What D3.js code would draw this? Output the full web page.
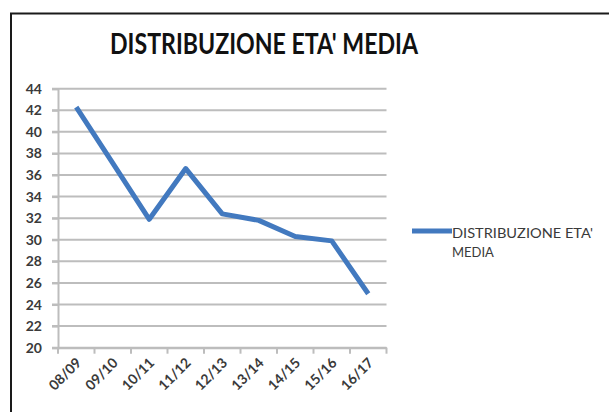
<!DOCTYPE html>
<html>
<head>
<meta charset="utf-8">
<script src="https://cdn.jsdelivr.net/npm/d3@7/dist/d3.min.js"></script>
<style>
  html, body { margin: 0; padding: 0; background: #fff; }
  svg { display: block; }
</style>
</head>
<body>
<svg id="chart" width="609" height="412"></svg>
<script>
// Average age per school year
const categories = ["08/09", "09/10", "10/11", "11/12", "12/13", "13/14", "14/15", "15/16", "16/17"];
const values = [42.3, 37.1, 31.9, 36.6, 32.4, 31.8, 30.3, 29.9, 25.0];
const yTicks = [20, 22, 24, 26, 28, 30, 32, 34, 36, 38, 40, 42, 44];
const titleText = "DISTRIBUZIONE ETA' MEDIA";
const legendLines = ["DISTRIBUZIONE ETA'", "MEDIA"];

const svg = d3.select("#chart");
const font = "Lato, 'Open Sans', sans-serif";
const lineColor = "#4279bf";
const gridColor = "#bdbdbd";
const textColor = "#3a3a3a";

// chart frame
svg.append("rect")
  .attr("x", 11).attr("y", 13.5)
  .attr("width", 640).attr("height", 420)
  .attr("fill", "#fff")
  .attr("stroke", "#1a1a1a").attr("stroke-width", 2);

// title
svg.append("text")
  .attr("x", 264).attr("y", 54)
  .attr("text-anchor", "middle")
  .attr("font-family", font).attr("font-weight", 700)
  .attr("font-size", 29).attr("fill", "#111")
  .attr("textLength", 308).attr("lengthAdjust", "spacingAndGlyphs")
  .text(titleText);

const x = d3.scaleBand().domain(categories).range([58, 386.5]);
const y = d3.scaleLinear().domain([20, 44]).range([347.7, 88.7]);

// horizontal gridlines
svg.append("g")
  .selectAll("line").data(yTicks).join("line")
  .attr("x1", 52).attr("x2", 386.5)
  .attr("y1", d => y(d)).attr("y2", d => y(d))
  .attr("stroke", gridColor).attr("stroke-width", 2);

// y axis
const yAxis = svg.append("g")
  .attr("transform", "translate(58,0)")
  .call(d3.axisLeft(y).tickValues(yTicks).tickSize(6).tickPadding(10));
yAxis.select(".domain").attr("stroke", gridColor).attr("stroke-width", 2);
yAxis.selectAll(".tick line").attr("stroke", gridColor).attr("stroke-width", 2);
yAxis.selectAll(".tick text")
  .attr("font-family", font).attr("font-weight", 700)
  .attr("font-size", 14).attr("fill", textColor);

// x axis with ticks at category boundaries
const xAxis = svg.append("g")
  .attr("transform", `translate(0,${y(20)})`)
  .call(d3.axisBottom(x).tickSize(0).tickFormat(""));
xAxis.select(".domain").attr("stroke", gridColor).attr("stroke-width", 2);
const edges = categories.map(c => x(c)).concat([x.range()[1]]);
xAxis.append("g").selectAll("line").data(edges).join("line")
  .attr("x1", d => d).attr("x2", d => d)
  .attr("y1", 0).attr("y2", 6)
  .attr("stroke", gridColor).attr("stroke-width", 2);
xAxis.append("g").selectAll("text").data(categories).join("text")
  .attr("transform", d => `translate(${x(d) + x.bandwidth() / 2 + 6},16) rotate(-45)`)
  .attr("text-anchor", "end")
  .attr("font-family", font).attr("font-weight", 700)
  .attr("font-size", 14).attr("fill", textColor)
  .text(d => d);

// series line
const line = d3.line()
  .x((d, i) => x(categories[i]) + x.bandwidth() / 2)
  .y(d => y(d));
svg.append("path")
  .datum(values)
  .attr("d", line)
  .attr("fill", "none")
  .attr("stroke", lineColor).attr("stroke-width", 5)
  .attr("stroke-linejoin", "round");

// legend
svg.append("line")
  .attr("x1", 412).attr("x2", 452)
  .attr("y1", 231).attr("y2", 231)
  .attr("stroke", lineColor).attr("stroke-width", 5);
svg.append("text")
  .attr("x", 452).attr("y", 238)
  .attr("font-family", font).attr("font-size", 13)
  .attr("fill", textColor)
  .attr("textLength", 141).attr("lengthAdjust", "spacingAndGlyphs")
  .text(legendLines[0]);
svg.append("text")
  .attr("x", 452).attr("y", 257)
  .attr("font-family", font).attr("font-size", 13)
  .attr("fill", textColor)
  .text(legendLines[1]);
</script>
</body>
</html>
